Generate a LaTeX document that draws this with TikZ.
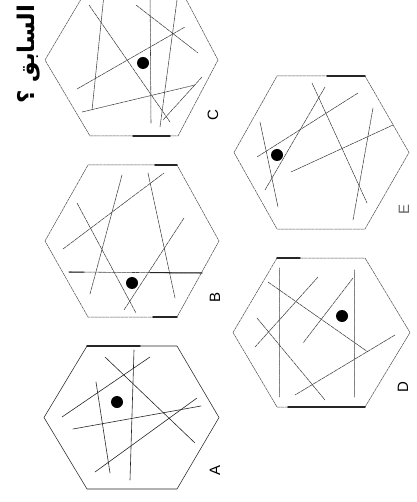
\documentclass[tikz,border=0pt]{standalone}
\usepackage{fontspec}
\setmainfont{Liberation Sans}
\newfontfamily\arabicfont[Script=Arabic]{DejaVu Sans}
\TeXXeTstate=1
\usetikzlibrary{calc}

\tikzset{
  hexedge/.style={line width=0.5pt, black!70, dash pattern=on 3pt off 0.8pt},
  cut/.style={line width=0.55pt, black!75, dash pattern=on 4pt off 0.8pt},
  edgebar/.style={line width=1.4pt, black!85},
  lbl/.style={rotate=90, font=\fontsize{15}{18}\selectfont},
}

\begin{document}
\begin{tikzpicture}[x=1pt,y=-1pt,line cap=round]
  \useasboundingbox (0,0) rectangle (416,502);
  \clip (0,0) rectangle (416,502);

  %domanda
  \node[rotate=90, anchor=base east, font=\arabicfont\bfseries\fontsize{23}{28}\selectfont] (quest) at (34,1) {\beginR السابق ؟\endR};

  %esagono A
  \draw[black!85, line width=0.55pt] (44,417.5) -- (87,346) -- (177,346) -- (219,417.5) -- (177,489) -- (87,489) -- cycle;
  \draw[edgebar] (87,346) -- (140,346);
  \draw[black!85, line width=0.6pt] (62,417) -- (150,357);
  \draw[black!85, line width=0.6pt] (105,357) -- (195,443);
  \draw[black!85, line width=0.6pt] (96,382) -- (110,473);
  \draw[black!85, line width=0.6pt] (134,350) -- (130,480);
  \draw[black!85, line width=0.6pt] (73,429) -- (201,406);
  \draw[black!85, line width=0.6pt] (95,472) -- (197,398);
  \fill (117,402) circle (6pt);
  \node[lbl] (labA) at (215,470) {A};

  %esagono B
  \draw[hexedge] (45,241) -- (88,165) -- (177,165) -- (219,241) -- (177,317) -- (88,317) -- cycle;
  \draw[edgebar] (155,165) -- (177,165);
  \draw[edgebar] (153,317) -- (177,317);
  \draw[cut] (63,249) -- (164,173);
  \draw[cut] (77,203) -- (136,313);
  \draw[cut] (122,175) -- (90,294);
  \draw[cut] (148,173) -- (175,298);
  \draw[cut] (184,218) -- (124,310);
  \draw[cut] (69,272) -- (202,273);
  \draw[edgebar, line width=1pt] (69,272) -- (84,272.1);
  \draw[edgebar, line width=1pt] (150,272.6) -- (202,273);
  \fill (132,283) circle (6pt);
  \node[lbl] (labB) at (215,297) {B};

  %esagono C
  \draw[hexedge] (45,60) -- (90,-16) -- (178,-16) -- (218,60) -- (178,136) -- (90,136) -- cycle;
  \draw[edgebar] (133,136) -- (170,136);
  \draw[cut] (89,5) -- (170,122);
  \draw[cut] (105,-15) -- (92,110);
  \draw[cut] (150,-15) -- (151,123);
  \draw[cut] (179,-15) -- (160,127);
  \draw[cut] (136,5) -- (198,53);
  \draw[cut] (77,89) -- (185,27);
  \draw[cut] (82,112) -- (195,85);
  \draw[cut] (202,77) -- (163,120);
  \fill (143,63) circle (6pt);
  \node[lbl] (labC) at (213,115) {C};

  %esagono D
  \draw[hexedge] (233,332.5) -- (277,258) -- (365,258) -- (410,332.5) -- (365,407) -- (277,407) -- cycle;
  \draw[edgebar] (277,258) -- (300,258);
  \draw[edgebar] (288,407) -- (365,407);
  \draw[cut, black!50, line width=0.9pt, dash pattern=on 1pt off 0.8pt] (279,268) -- (279,397);
  \draw[cut, black!50, line width=0.9pt, dash pattern=on 1pt off 0.8pt] (354,270) -- (354,397);
  \draw[cut] (268,282) -- (368,352);
  \draw[cut] (318,277) -- (255,347);
  \draw[cut] (257,318) -- (325,400);
  \draw[cut] (353,278) -- (303,343);
  \draw[cut] (395,335) -- (295,395);
  \fill (342,316) circle (6pt);
  \node[lbl] (labD) at (403,387) {D};

  %esagono E
  \draw[hexedge] (234,152.5) -- (277,76) -- (365,76) -- (409,152.5) -- (365,229) -- (277,229) -- cycle;
  \draw[edgebar] (327,76) -- (365,76);
  \draw[cut] (260,122) -- (278,207);
  \draw[cut] (325,87) -- (265,190);
  \draw[cut] (312,83) -- (367,203);
  \draw[cut] (358,93) -- (257,157);
  \draw[cut] (393,125) -- (291,172);
  \draw[cut] (373,108) -- (353,220);
  \fill (277,155) circle (6pt);
  \node[lbl, black!60] (labE) at (404,209) {E};
\end{tikzpicture}
\end{document}
